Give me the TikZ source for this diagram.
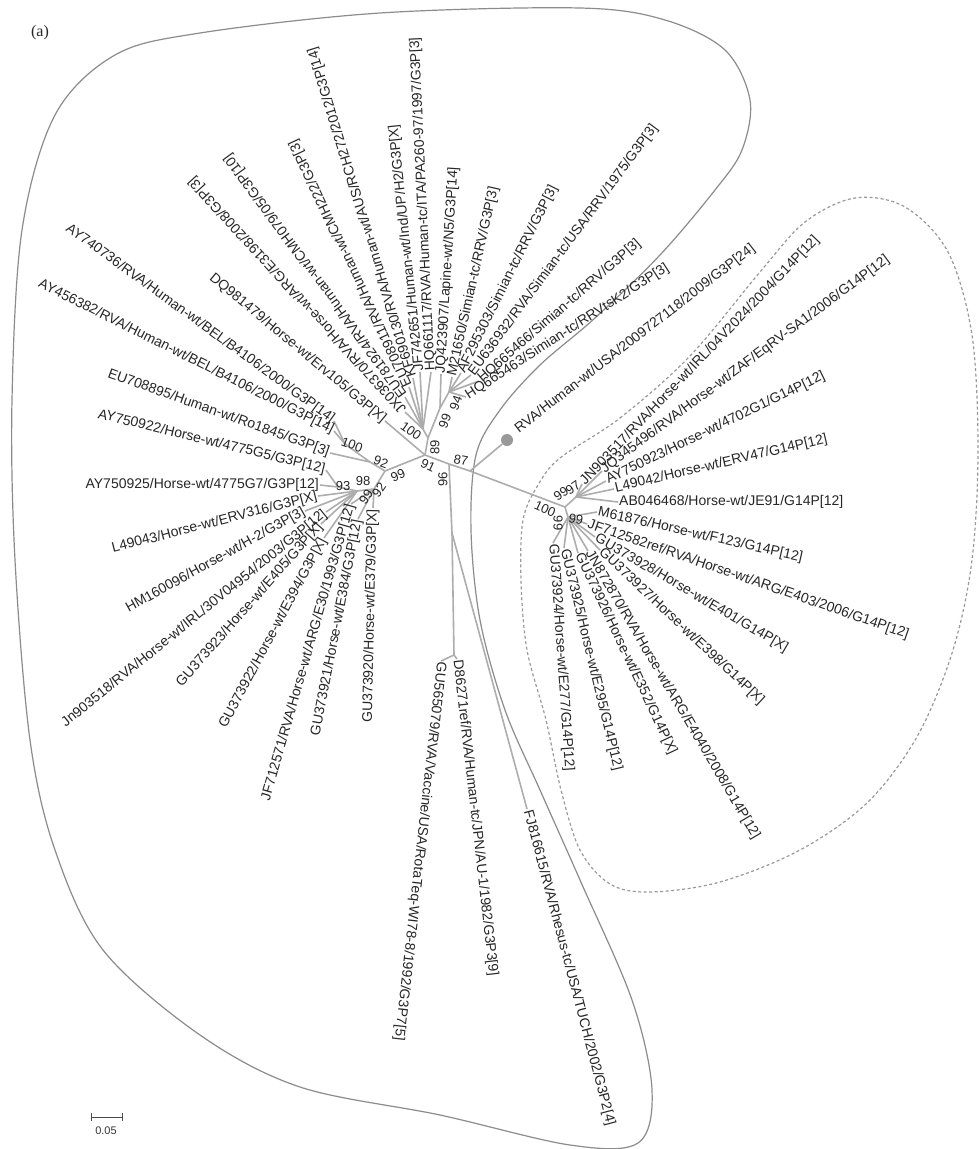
\documentclass[tikz,border=0pt]{standalone}
\usepackage{fontspec}
\setmainfont{Liberation Sans}
\newfontfamily\serifa{Liberation Serif}
\begin{document}
\begin{tikzpicture}[x=1pt,y=-1pt,
  lab/.style={font=\fontsize{14}{16}\selectfont, text=black!85, inner sep=1pt},
  bs/.style={font=\fontsize{13}{15}\selectfont, text=black!85, inner sep=0pt},
  br/.style={draw=black!32, line width=1.6pt},
  outl/.style={draw=black!45, line width=1.2pt},
  dashl/.style={draw=black!40, line width=1.2pt, dash pattern=on 3pt off 2.5pt}]
\useasboundingbox (0,0) rectangle (978,1149);
\fill[white] (0,0) rectangle (978,1149);

% ---------- enclosing outlines ----------
\draw[outl] plot[smooth cycle, tension=0.55] coordinates {
 (200,33) (380,13) (580,8) (665,20) (725,50) (750,100) (742,150) (715,190)
 (660,255) (595,318) (540,365) (500,410) (476,455) (471,530) (480,620)
 (505,710) (540,790) (580,880) (632,1000) (652,1090) (638,1143) (570,1145)
 (440,1115) (300,1087) (200,1035) (103,950) (55,850) (30,740) (15,560)
 (12,400) (22,230) (55,115) (115,55)};
\draw[dashl] plot[smooth cycle, tension=0.55] coordinates {
 (560,458) (620,418) (690,356) (760,272) (805,222) (855,198) (905,207)
 (948,252) (972,335) (978,450) (972,560) (953,650) (918,735) (868,802)
 (800,850) (720,882) (650,892) (610,884) (580,850) (561,790) (546,720)
 (527,650) (521,580) (523,520) (538,485)};

% ---------- internal nodes ----------
\coordinate (root) at (425,455);
\coordinate (n89) at (428,438);
\coordinate (n100t) at (423,429);
\coordinate (n99t) at (440,408);
\coordinate (n94) at (449,392);
\coordinate (n99L) at (385,471);
\coordinate (n92) at (370,462);
\coordinate (n100L) at (345,444);
\coordinate (n9992) at (374,489);
\coordinate (n98) at (357,491);
\coordinate (n93) at (338,487);
\coordinate (n96) at (449,464);
\coordinate (nDA) at (452,533);
\coordinate (nDG) at (454,655);
\coordinate (n87) at (470,471);
\coordinate (n100G) at (565,507);
\coordinate (n9997) at (576,497);
\coordinate (n99G) at (568,517);

% ---------- tips ----------
\coordinate (tDQ) at (385,421);
\coordinate (ta) at (405,412);
\coordinate (tb) at (405,397);
\coordinate (tc) at (409,387);
\coordinate (td) at (413,378);
\coordinate (te) at (420,372);
\coordinate (tf) at (431,372);
\coordinate (tg) at (441,374);
\coordinate (th) at (452,377);
\coordinate (ti) at (461,373);
\coordinate (tj) at (471,375);
\coordinate (tk) at (479,381);
\coordinate (tl) at (466,397);

\coordinate (t1) at (334,421);
\coordinate (t2) at (334,431);
\coordinate (t3) at (330,453);
\coordinate (t4) at (326,470);
\coordinate (t5) at (320,485);
\coordinate (t6) at (318,496);
\coordinate (t7) at (305,511);
\coordinate (t8) at (326,512);
\coordinate (t9) at (321,524);
\coordinate (t10) at (324,538);
\coordinate (t11) at (351,504);
\coordinate (t12) at (358,519);
\coordinate (t13) at (373,508);

\coordinate (tGU565079) at (441,661);
\coordinate (tD86271) at (457,659);
\coordinate (tFJ) at (527,809);
\coordinate (tdotlab) at (516,431);

\coordinate (g1) at (582,484);
\coordinate (g2) at (602,471);
\coordinate (g3) at (606,481);
\coordinate (g4) at (614,489);
\coordinate (g5) at (618,502);
\coordinate (g6) at (597,512);
\coordinate (g7) at (587,524);
\coordinate (g8) at (595,537);
\coordinate (g9) at (600,550);
\coordinate (g10) at (588,551);
\coordinate (g11) at (578,553);
\coordinate (g12) at (564,548);
\coordinate (g13) at (553,543);

% ---------- branches ----------
\draw[br] (root) -- (n89);
\draw[br] (root) -- (tDQ);
\draw[br] (n89) -- (n100t);
\foreach \t in {ta,tb,tc,td,te,tf} \draw[br] (n100t) -- (\t);
\draw[br] (n89) -- (n99t);
\draw[br] (n99t) -- (tg);
\draw[br] (n99t) -- (n94);
\foreach \t in {th,ti,tj,tk,tl} \draw[br] (n94) -- (\t);

\draw[br] (root) -- (n99L);
\draw[br] (n99L) -- (n92);
\draw[br] (n92) -- (n100L);
\draw[br] (n100L) -- (t1);
\draw[br] (n100L) -- (t2);
\draw[br] (n92) -- (t3);
\draw[br] (n99L) -- (n9992);
\draw[br] (n9992) -- (n98);
\draw[br] (n98) -- (n93);
\draw[br] (n93) -- (t4);
\draw[br] (n93) -- (t5);
\foreach \t in {t6,t7,t8,t9,t10} \draw[br] (n98) -- (\t);
\foreach \t in {t11,t12,t13} \draw[br] (n9992) -- (\t);

\draw[br] (root) -- (n96);
\draw[br] (n96) -- (nDA);
\draw[br] (nDA) -- (nDG);
\draw[br] (nDG) -- (tGU565079);
\draw[br] (nDG) -- (tD86271);
\draw[br] (nDA) -- (tFJ);
\draw[br] (n96) -- (n87);
\draw[br] (n87) -- (n100G);
\node[circle, fill=black!40, minimum size=12pt, inner sep=0pt] (dot) at (507,440) {};
\draw[br] (n87) -- (dot);
\draw[br] (n100G) -- (n9997);
\draw[br] (n100G) -- (n99G);
\foreach \t in {g1,g2,g3,g4,g5} \draw[br] (n9997) -- (\t);
\foreach \t in {g6,g7,g8,g9,g10,g11,g12,g13} \draw[br] (n99G) -- (\t);

% ---------- leaf labels: top cluster ----------
\node[lab,anchor=east,rotate=-39.7] (lDQ) at (tDQ) {DQ981479/Horse-wt/Erv105/G3P[X]};
\node[lab,anchor=west,rotate=132.5] (la) at (ta) {JX036370/RVA/Horse-wt/ARG/E3198/2008/G3P[3]};
\node[lab,anchor=west,rotate=126.3] (lb) at (tb) {EU781924/RVA/Human-wt/CMH079/05/G3P[10]};
\node[lab,anchor=west,rotate=115.2] (lc) at (tc) {EU708911/RVA/Human-wt/CMH222/G3P[3]};
\node[lab,anchor=west,rotate=106.9] (ld) at (td) {KF690130/RVA/Human-wt/AUS/RCH272/2012/G3P[14]};
\node[lab,anchor=west,rotate=96] (le) at (te) {JF742651/Human-wt/Ind/UP/H2/G3P[X]};
\node[lab,anchor=west,rotate=92.7] (lf) at (tf) {HQ661117/RVA/Human-tc/ITA/PA260-97/1997/G3P[3]};
\node[lab,anchor=west,rotate=86.4] (lg) at (tg) {JQ423907/Lapine-wt/N5/G3P[14]};
\node[lab,anchor=west,rotate=77.4] (lh) at (th) {M21650/Simian-tc/RRV/G3P[3]};
\node[lab,anchor=west,rotate=63.5] (li) at (ti) {AF295303/Simian-tc/RRV/G3P[3]};
\node[lab,anchor=west,rotate=53.5] (lj) at (tj) {EU636932/RVA/Simian-tc/USA/RRV/1975/G3P[3]};
\node[lab,anchor=west,rotate=41] (lk) at (tk) {HQ665466/Simian-tc/RRV/G3P[3]};
\node[lab,anchor=west,rotate=32.8] (ll) at (tl) {HQ665463/Simian-tc/RRVtsK2/G3P[3]};

% ---------- leaf labels: left cluster ----------
\node[lab,anchor=east,rotate=-36] (m1) at (t1) {AY740736/RVA/Human-wt/BEL/B4106/2000/G3P[14]};
\node[lab,anchor=east,rotate=-26.6] (m2) at (t2) {AY456382/RVA/Human-wt/BEL/B4106/2000/G3P[14]};
\node[lab,anchor=east,rotate=-19.7] (m3) at (t3) {EU708895/Human-wt/Ro1845/G3P[3]};
\node[lab,anchor=east,rotate=-13.7] (m4) at (t4) {AY750922/Horse-wt/4775G5/G3P[12]};
\node[lab,anchor=east,rotate=0] (m5) at (t5) {AY750925/Horse-wt/4775G7/G3P[12]};
\node[lab,anchor=east,rotate=14.5] (m6) at (t6) {L49043/Horse-wt/ERV316/G3P[X]};
\node[lab,anchor=east,rotate=29] (m7) at (t7) {HM160096/Horse-wt/H-2/G3P[3]};
\node[lab,anchor=east,rotate=39] (m8) at (t8) {Jn903518/RVA/Horse-wt/IRL/30V04954/2003/G3P[12]};
\node[lab,anchor=east,rotate=48.6] (m9) at (t9) {GU373923/Horse-wt/E405/G3P[X]};
\node[lab,anchor=east,rotate=61.9] (m10) at (t10) {GU373922/Horse-wt/E394/G3P[X]};
\node[lab,anchor=east,rotate=74] (m11) at (t11) {JF712571/RVA/Horse-wt/ARG/E30/1993/G3P[12]};
\node[lab,anchor=east,rotate=79] (m12) at (t12) {GU373921/Horse-wt/E384/G3P[12]};
\node[lab,anchor=east,rotate=88.7] (m13) at (t13) {GU373920/Horse-wt/E379/G3P[X]};

% ---------- leaf labels: bottom ----------
\node[lab,anchor=west,rotate=-96.4] (lgu) at (tGU565079) {GU565079/RVA/Vaccine/USA/RotaTeq-WI78-8/1992/G3P7[5]};
\node[lab,anchor=west,rotate=-83.5] (ld8) at (tD86271) {D86271ref/RVA/Human-tc/JPN/AU-1/1982/G3P3[9]};
\node[lab,anchor=west,rotate=-75.2] (lfj) at (tFJ) {FJ816615/RVA/Rhesus-tc/USA/TUCH/2002/G3P2[4]};
\node[lab,anchor=west,rotate=37.7] (ldot) at (tdotlab) {RVA/Human-wt/USA/2009727118/2009/G3P[24]};

% ---------- leaf labels: G14 cluster ----------
\node[lab,anchor=west,rotate=46.3] (h1) at (g1) {JN903517/RVA/Horse-wt/IRL/04V2024/2004/G14P[12]};
\node[lab,anchor=west,rotate=36.6] (h2) at (g2) {JQ345496/RVA/Horse-wt/ZAF/EqRV-SA1/2006/G14P[12]};
\node[lab,anchor=west,rotate=25.8] (h3) at (g3) {AY750923/Horse-wt/4702G1/G14P[12]};
\node[lab,anchor=west,rotate=13.2] (h4) at (g4) {L49042/Horse-wt/ERV47/G14P[12]};
\node[lab,anchor=west,rotate=0] (h5) at (g5) {AB046468/Horse-wt/JE91/G14P[12]};
\node[lab,anchor=west,rotate=-12.7] (h6) at (g6) {M61876/Horse-wt/F123/G14P[12]};
\node[lab,anchor=west,rotate=-19.1] (h7) at (g7) {JF712582ref/RVA/Horse-wt/ARG/E403/2006/G14P[12]};
\node[lab,anchor=west,rotate=-30.3] (h8) at (g8) {GU373928/Horse-wt/E401/G14P[X]};
\node[lab,anchor=west,rotate=-43.2] (h9) at (g9) {GU373927/Horse-wt/E398/G14P[X]};
\node[lab,anchor=west,rotate=-59.6] (h10) at (g10) {JN872870/RVA/Horse-wt/ARG/E4040/2008/G14P[12]};
\node[lab,anchor=west,rotate=-64.7] (h11) at (g11) {GU373926/Horse-wt/E352/G14P[X]};
\node[lab,anchor=west,rotate=-76.4] (h12) at (g12) {GU373925/Horse-wt/E295/G14P[12]};
\node[lab,anchor=west,rotate=-86] (h13) at (g13) {GU373924/Horse-wt/E277/G14P[12]};

% ---------- bootstrap values ----------
\node[bs,rotate=-35] (b1) at (411,431) {100};
\node[bs,rotate=90] (b2) at (435,447) {89};
\node[bs,rotate=70] (b3) at (445,421) {99};
\node[bs,rotate=70] (b4) at (456,403) {94};
\node[bs,rotate=-20] (b5) at (352,445) {100};
\node[bs,rotate=-20] (b6) at (381,462) {92};
\node[bs,rotate=25] (b7) at (398,475) {99};
\node[bs] (b8) at (343,486) {93};
\node[bs] (b9) at (363,481) {98};
\node[bs,rotate=55] (b10) at (366,497) {99};
\node[bs,rotate=55] (b11) at (379,490) {92};
\node[bs,rotate=-25] (b12) at (428,465) {91};
\node[bs,rotate=90] (b13) at (443,479) {96};
\node[bs,rotate=-10] (b14) at (461,460) {87};
\node[bs,rotate=-25] (b15) at (545,509) {100};
\node[bs,rotate=-90] (b16) at (558,523) {99};
\node[bs,rotate=-10] (b17) at (576,519) {99};
\node[bs,rotate=35] (b18) at (561,494) {99};
\node[bs,rotate=35] (b19) at (573,488) {97};

% ---------- panel letter and scale ----------
\node[font=\serifa\fontsize{16}{18}\selectfont, text=black!85] (panel) at (40,33) {(a)};
\coordinate (sb1) at (91,1117);
\coordinate (sb2) at (122,1117);
\draw[draw=black!70, line width=1pt] (sb1) -- (sb2);
\draw[draw=black!70, line width=1pt] ([yshift=-4pt]sb1) -- ([yshift=4pt]sb1);
\draw[draw=black!70, line width=1pt] ([yshift=-4pt]sb2) -- ([yshift=4pt]sb2);
\node[font=\fontsize{11}{13}\selectfont, text=black!80] (sbl) at (106,1131) {0.05};
\end{tikzpicture}
\end{document}
